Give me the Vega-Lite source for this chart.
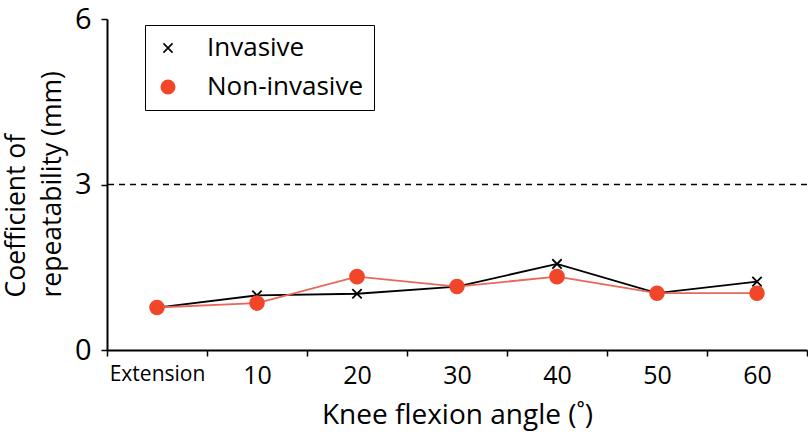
{
  "$schema": "https://vega.github.io/schema/vega-lite/v6.json",
  "description": "Coefficient of repeatability by knee flexion angle",
  "width": 700,
  "height": 331,
  "autosize": "none",
  "padding": {"left": 107, "top": 19, "right": 1, "bottom": 84},
  "datasets": {
    "cr": [
      {"angle": "Extension", "method": "Invasive", "cr": 0.77},
      {"angle": "10", "method": "Invasive", "cr": 0.99},
      {"angle": "20", "method": "Invasive", "cr": 1.02},
      {"angle": "30", "method": "Invasive", "cr": 1.15},
      {"angle": "40", "method": "Invasive", "cr": 1.56},
      {"angle": "50", "method": "Invasive", "cr": 1.03},
      {"angle": "60", "method": "Invasive", "cr": 1.24},
      {"angle": "Extension", "method": "Non-invasive", "cr": 0.77},
      {"angle": "10", "method": "Non-invasive", "cr": 0.85},
      {"angle": "20", "method": "Non-invasive", "cr": 1.33},
      {"angle": "30", "method": "Non-invasive", "cr": 1.15},
      {"angle": "40", "method": "Non-invasive", "cr": 1.33},
      {"angle": "50", "method": "Non-invasive", "cr": 1.03},
      {"angle": "60", "method": "Non-invasive", "cr": 1.03}
    ],
    "threshold": [{"cr": 3}]
  },
  "encoding": {
    "x": {
      "field": "angle",
      "type": "ordinal",
      "sort": ["Extension", "10", "20", "30", "40", "50", "60"],
      "scale": {"type": "band", "paddingInner": 0, "paddingOuter": 0},
      "axis": {
        "title": "Knee flexion angle (˚)",
        "labelAngle": 0,
        "labelFontSize": {"condition": {"test": "datum.value === 'Extension'", "value": 21}, "value": 25},
        "labelPadding": 7,
        "tickBand": "extent",
        "tickSize": 6,
        "titleFontSize": 28,
        "titlePadding": 13
      }
    },
    "y": {
      "field": "cr",
      "type": "quantitative",
      "scale": {"domain": [0, 6]},
      "axis": {
        "title": ["Coefficient of", "repeatability (mm)"],
        "values": [0, 3, 6],
        "format": "d",
        "tickSize": 6,
        "labelPadding": 10,
        "labelFontSize": 29,
        "titleFontSize": 26.5,
        "titleLineHeight": 36,
        "titleAlign": "left",
        "titleAngle": -90,
        "titleBaseline": "alphabetic",
        "titleX": -83,
        "titleY": 278
      }
    }
  },
  "layer": [
    {
      "data": {"name": "threshold"},
      "mark": {"type": "rule", "color": "black", "strokeWidth": 1.3, "strokeDash": [6, 5]},
      "encoding": {"x": null}
    },
    {
      "data": {"name": "cr"},
      "mark": {"type": "line", "strokeWidth": 1.8},
      "encoding": {
        "detail": {"field": "method"},
        "stroke": {
          "condition": {"test": "datum.method === 'Invasive'", "value": "black"},
          "value": "#e8675a"
        }
      }
    },
    {
      "data": {"name": "cr"},
      "transform": [{"filter": "datum.method === 'Invasive'"}],
      "mark": {"type": "point", "filled": true, "opacity": 1, "strokeWidth": 1.8, "size": 190},
      "encoding": {
        "shape": {"field": "method", "type": "nominal"},
        "fill": {"field": "method", "type": "nominal"},
        "stroke": {"field": "method", "type": "nominal"}
      }
    },
    {
      "data": {"name": "cr"},
      "transform": [{"filter": "datum.method === 'Non-invasive'"}],
      "mark": {"type": "point", "filled": true, "opacity": 1, "strokeWidth": 1.8, "size": 190},
      "encoding": {
        "shape": {
          "field": "method",
          "type": "nominal",
          "scale": {
            "domain": ["Invasive", "Non-invasive"],
            "range": ["M-0.68,-0.68L0.68,0.68M-0.68,0.68L0.68,-0.68", "circle"]
          },
          "legend": {"title": null, "orient": "none", "legendX": 38, "legendY": 6}
        },
        "fill": {
          "field": "method",
          "type": "nominal",
          "scale": {"domain": ["Invasive", "Non-invasive"], "range": ["transparent", "#f2462b"]},
          "legend": {"title": null, "orient": "none", "legendX": 38, "legendY": 6}
        },
        "stroke": {
          "field": "method",
          "type": "nominal",
          "scale": {"domain": ["Invasive", "Non-invasive"], "range": ["black", "#f2462b"]},
          "legend": {"title": null, "orient": "none", "legendX": 38, "legendY": 6}
        }
      }
    }
  ],
  "config": {
    "view": {"stroke": null},
    "font": "Open Sans",
    "axis": {
      "grid": false,
      "domainColor": "black",
      "domainWidth": 2,
      "tickColor": "black",
      "tickWidth": 1.5,
      "labelColor": "black",
      "labelFont": "Open Sans",
      "titleFont": "Open Sans",
      "titleFontWeight": "normal",
      "titleColor": "black"
    },
    "legend": {
      "padding": 10,
      "strokeColor": "black",
      "labelFont": "Open Sans",
      "labelColor": "black",
      "labelFontSize": 26,
      "labelLimit": 400,
      "labelOffset": 26,
      "rowPadding": 13,
      "symbolSize": 180,
      "symbolStrokeWidth": 1.6
    }
  }
}
